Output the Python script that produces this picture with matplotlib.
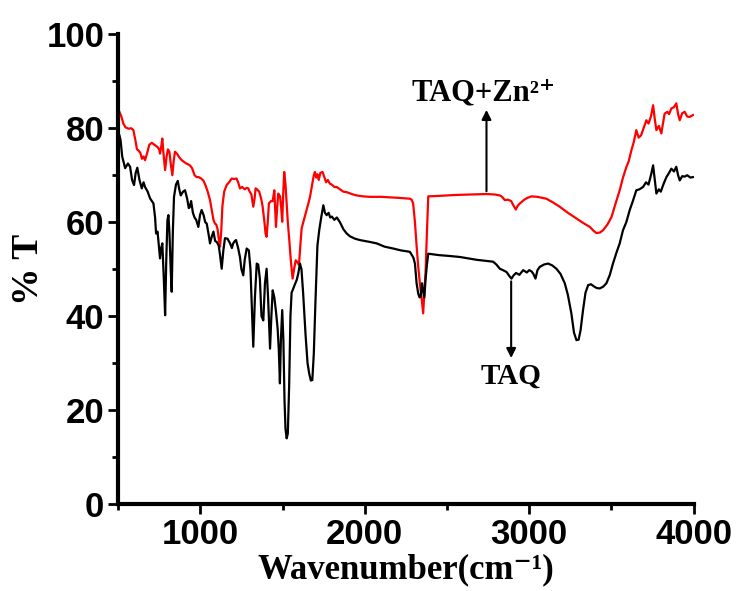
import matplotlib
matplotlib.use('Agg')
import matplotlib.pyplot as plt
from matplotlib.ticker import MultipleLocator

# FTIR spectra, values
taq_x = [508, 515, 525, 543, 560, 573, 585, 597, 607, 617, 630, 644, 655, 664, 680, 694,
         715, 725, 731, 740, 748, 755, 762, 769, 778, 786, 793, 800, 806, 812, 820, 826,
         833, 840, 852, 863, 872, 881, 895, 907, 920, 930, 937, 944, 955, 965, 975, 988,
         998, 1008, 1020, 1030, 1039, 1050, 1059, 1070, 1080, 1090, 1100, 1112, 1120, 1130,
         1140, 1150, 1165, 1181, 1192, 1200, 1210, 1217, 1230, 1241, 1250, 1261, 1270, 1282,
         1295, 1305, 1315, 1322, 1332, 1343, 1352, 1362, 1372, 1383, 1393, 1403, 1412, 1424,
         1432, 1440, 1450, 1460, 1470, 1477, 1484, 1490, 1498, 1505, 1512, 1518, 1525, 1532,
         1540, 1548, 1555, 1561, 1572, 1586, 1595, 1606, 1615, 1625, 1640, 1652, 1662, 1672,
         1681, 1690, 1700, 1712, 1723, 1735, 1748, 1758, 1768, 1780, 1790, 1800, 1815, 1830,
         1849, 1870, 1890, 1910, 1940, 1970, 2031, 2072, 2120, 2173, 2220, 2274, 2295, 2305,
         2315, 2325, 2333, 2340, 2348, 2355, 2362, 2370, 2378, 2386, 2450, 2520, 2578, 2680,
         2780, 2800, 2821, 2840, 2862, 2880, 2892, 2905, 2920, 2940, 2963, 2985, 3000, 3015,
         3025, 3038, 3050, 3064, 3090, 3115, 3140, 3165, 3190, 3216, 3235, 3256, 3272, 3287,
         3300, 3312, 3327, 3342, 3358, 3375, 3395, 3410, 3429, 3450, 3469, 3490, 3509, 3530,
         3550, 3570, 3590, 3611, 3630, 3651, 3670, 3692, 3710, 3725, 3740, 3753, 3763, 3773,
         3788, 3800, 3815, 3834, 3850, 3864, 3880, 3894, 3905, 3915, 3930, 3945, 3960, 3980,
         3995]
taq_y = [78.5, 77.5, 74, 71.5, 72.5, 71.8, 69, 67.9, 70.5, 71.6, 69, 67.2, 68.5, 67.5, 66.5, 65.1,
         64, 61, 57.6, 58, 55, 52.3, 54.5, 55.5, 48, 40.2, 52, 60.4, 61.5, 58, 50, 45.2,
         58, 65.4, 68, 68.8, 67, 65.7, 66.5, 66.8, 65, 63, 63.3, 64.5, 62, 61, 60.5, 59,
         61.5, 62.6, 61.5, 60, 59.7, 57.5, 55.5, 57, 58, 56, 55.8, 55, 53, 50.1,
         54, 56.6, 56.5, 55.5, 54.5, 55.5, 56, 56.2, 54.5, 52.6, 50, 48.7, 52, 54.4,
         54, 50, 40, 33.5, 44, 51.2, 51, 48, 40, 39.1, 47, 50.1, 44, 33.1,
         40, 45.5, 44, 41, 37.4, 33, 25.7, 35, 41.3, 35, 22, 16, 14.0, 15,
         25, 40, 45, 45.5, 46.5, 47.7, 49, 51.2, 50, 45, 36, 30, 27.8, 26.3,
         26.4, 32, 43, 55, 58.3, 61, 63.6, 62, 61.5, 62, 61, 61.2, 60.5, 61,
         60, 58.5, 57.6, 57, 56.5, 56.2, 55.8, 55.5, 54.8, 54.4, 54, 53.7, 52.5, 51.2,
         47, 44.8, 44, 44.2, 47, 45.5, 44, 48, 51, 53.3, 53, 52.8, 52.6, 52,
         51.6, 51, 50.1, 49.8, 49.4, 48.5, 48, 48.7, 49.2, 48.8, 49.8, 49.3, 49.8, 49.5,
         49, 48, 49.8, 50.5, 51, 51.2, 50.8, 50.1, 49, 47, 44.5, 40.6, 36.5, 34.9,
         35, 37, 41.3, 45, 46.6, 46.8, 46.3, 46, 45.9, 46.3, 47, 48.8, 51.2, 53.5,
         55.5, 58.3, 60, 62.6, 64.5, 66.8, 67, 67.5, 68.5, 68, 70, 72.1, 69, 66.1,
         67, 66.5, 68, 69.6, 70.5, 71.4, 70.8, 71.8, 70, 68.9, 69.8, 69.7, 70, 69.5,
         69.6]

zn_x = [508, 520, 532, 545, 563, 580, 593, 605, 615, 623, 635, 645, 655, 664, 675, 690,
        705, 720, 740, 750, 755, 762, 769, 775, 786, 795, 803, 812, 820, 830, 838, 846,
        860, 872, 887, 910, 937, 950, 965, 978, 990, 1005, 1018, 1030, 1045, 1059, 1070,
        1080, 1089, 1097, 1105, 1112, 1120, 1127, 1134, 1145, 1160, 1175, 1191, 1205, 1220,
        1230, 1241, 1255, 1270, 1282, 1292, 1300, 1310, 1322, 1330, 1336, 1345, 1358, 1370,
        1379, 1390, 1397, 1403, 1410, 1417, 1430, 1440, 1450, 1455, 1460, 1467, 1474, 1485,
        1492, 1498, 1504, 1510, 1518, 1525, 1532, 1541, 1550, 1561, 1570, 1580, 1590, 1600,
        1608, 1616, 1630, 1647, 1657, 1667, 1680, 1690, 1697, 1705, 1712, 1720, 1730, 1743,
        1755, 1765, 1775, 1788, 1800, 1815, 1829, 1850, 1870, 1890, 1920, 1950, 1990, 2031,
        2100, 2200, 2274, 2285, 2294, 2305, 2315, 2325, 2335, 2345, 2355, 2362, 2370, 2378,
        2386, 2450, 2550, 2650, 2740, 2790, 2821, 2835, 2851, 2870, 2890, 2905, 2918, 2930,
        2943, 2970, 2990, 3013, 3050, 3104, 3145, 3185, 3235, 3287, 3330, 3368, 3390, 3408,
        3430, 3449, 3475, 3500, 3525, 3550, 3570, 3591, 3605, 3621, 3635, 3651, 3665, 3680,
        3695, 3712, 3725, 3740, 3753, 3763, 3773, 3788, 3803, 3815, 3823, 3840, 3850, 3864,
        3880, 3894, 3905, 3915, 3930, 3945, 3960, 3975, 3995]
zn_y = [83.5, 82.5, 81, 80.2, 79.9, 80, 79.6, 77.5, 75.5, 75.3, 74.8, 73.5, 74, 73.2, 74.5, 76.5,
        76.9, 76.5, 76, 75.5, 74.6, 76, 77.8, 75, 71.1, 74, 75.5, 75, 72.5, 70, 73, 75,
        74.5, 73.8, 73.2, 72.6, 72.1, 71.5, 70, 69.6, 69.6, 69.3, 68.9, 68, 66.5, 64.7, 62.5,
        60.5, 59.7, 59.5, 58.5, 56.5, 54.8, 58, 63.3, 66.5, 67.9, 68.5, 69.3, 69.2, 69.3,
        68.5, 67.2, 67.5, 67, 67.3, 67.2, 66.5, 66, 63.3, 65, 67.2, 67, 66.5, 65,
        63.3, 60, 57.5, 56.9, 60, 64, 64.5, 64.5, 66.8, 63, 59, 63, 66.1, 65.5,
        63, 60.1, 66, 70.7, 68, 64, 60, 56.2, 52, 48, 50, 51.9, 51.5, 50.9,
        55, 58.7, 60.5, 62.6, 64, 65.4, 68, 70, 70.7, 69.5, 70.2, 69, 70.5, 70.7,
        69.5, 68.5, 69, 68.2, 68, 67.5, 67.5, 67, 66.5, 66.4, 66, 65.7, 65.5, 65.4,
        65.4, 65.2, 65, 64.8, 64, 60, 55, 50.5, 47, 44, 40.6, 45, 49.8, 58,
        65.5, 65.6, 65.8, 65.9, 66, 65.9, 65.7, 65.4, 64.7, 64.8, 64.5, 63.5, 62.7, 63.5,
        64, 64.8, 65.2, 65.5, 65.4, 65, 64.2, 63.3, 62, 60.8, 59.8, 59, 58.2, 57.7,
        57.8, 58.3, 59.5, 61.1, 64, 66.8, 69.5, 71.8, 73, 75.3, 77, 79.6, 78, 78.5,
        80, 81.7, 81, 82.5, 84.9, 82, 79.6, 80.5, 78.9, 81.5, 83.1, 83.5, 83, 84.2,
        84.5, 85.3, 83, 81.7, 83.2, 83.5, 82.5, 82.4, 82.8]

x_ticks = [1000, 2000, 3000, 4000]
y_ticks = [0, 20, 40, 60, 80, 100]

serif = ['Liberation Serif', 'DejaVu Serif']

fig = plt.figure(figsize=(7.38, 5.91), dpi=100)
ax = fig.add_axes([0.16, 0.147, 0.78, 0.795])

ax.plot(zn_x, zn_y, color='red', lw=1.6)
ax.plot(taq_x, taq_y, color='black', lw=1.6)

ax.set_xlim(500, 4000)
ax.set_ylim(0, 100)
ax.set_xticks(x_ticks)
ax.set_yticks(y_ticks)
ax.xaxis.set_minor_locator(MultipleLocator(500))
ax.yaxis.set_minor_locator(MultipleLocator(10))

for s in ['top', 'right']:
    ax.spines[s].set_visible(False)
for s in ['left', 'bottom']:
    ax.spines[s].set_linewidth(3)

ax.tick_params(which='major', direction='out', length=7, width=2, pad=3)
ax.tick_params(which='minor', direction='out', length=4, width=2)
for lab in ax.get_xticklabels() + ax.get_yticklabels():
    lab.set_fontfamily('Liberation Sans')
    lab.set_fontweight('bold')
    lab.set_fontsize(25)

ax.set_xlabel('Wavenumber(cm\u207b\u00b9)', fontfamily=serif,
              fontweight='bold', fontsize=25, labelpad=2)
ax.set_ylabel('% T', fontfamily=serif, fontweight='bold',
              fontsize=27, labelpad=0)

ax.annotate('', xy=(2740, 84.5), xytext=(2740, 66),
            arrowprops=dict(arrowstyle='-|>', color='black', lw=1.5, mutation_scale=14))
ax.text(2720, 87.5, 'TAQ+Zn\u00b2\u207a', ha='center', va='center',
        fontfamily=serif, fontweight='bold', fontsize=22)
ax.annotate('', xy=(2890, 30.5), xytext=(2890, 48),
            arrowprops=dict(arrowstyle='-|>', color='black', lw=1.5, mutation_scale=14))
ax.text(2890, 30, 'TAQ', ha='center', va='top',
        fontfamily=serif, fontweight='bold', fontsize=21)

fig.savefig('out.png', dpi=100)
